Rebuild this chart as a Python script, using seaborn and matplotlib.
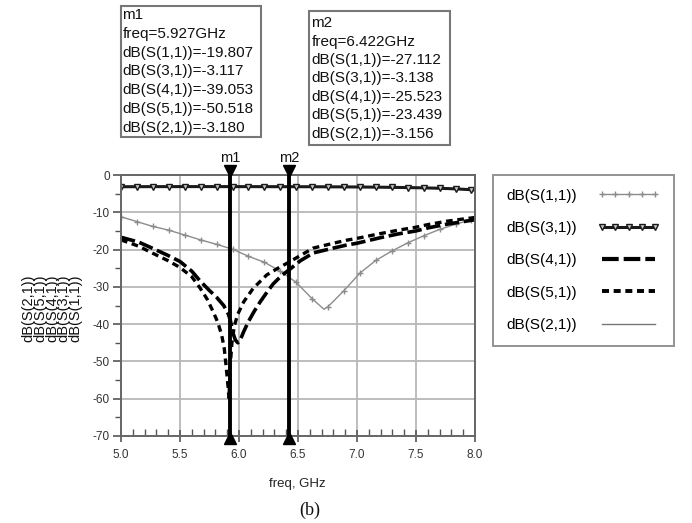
import matplotlib
matplotlib.use("Agg")
import matplotlib.pyplot as plt
import seaborn as sns
from matplotlib.lines import Line2D
from matplotlib.patches import Rectangle
from matplotlib.ticker import MultipleLocator

# ---------------- data ----------------
trace_names = ["dB(S(1,1))", "dB(S(3,1))", "dB(S(4,1))", "dB(S(5,1))", "dB(S(2,1))"]

freq_s11 = [5.0, 5.135, 5.27, 5.405, 5.54, 5.675, 5.81, 5.945, 6.08, 6.215, 6.35,
            6.485, 6.62, 6.72, 6.755, 6.89, 7.025, 7.16, 7.295, 7.43, 7.565, 7.7,
            7.835, 7.97, 8.0]
s11 = [-11.2, -12.5, -13.8, -14.8, -16.1, -17.4, -18.6, -19.9, -21.8, -23.4, -25.8,
       -28.8, -33.2, -36.0, -35.3, -31.0, -26.3, -22.9, -20.4, -18.2, -16.3, -14.6,
       -13.2, -12.0, -11.8]

freq_grid = [5.0, 5.135, 5.27, 5.405, 5.54, 5.675, 5.81, 5.945, 6.08, 6.215, 6.35,
             6.485, 6.62, 6.755, 6.89, 7.025, 7.16, 7.295, 7.43, 7.565, 7.7, 7.835,
             7.97, 8.0]
s31 = [-3.15, -3.13, -3.12, -3.12, -3.11, -3.11, -3.11, -3.12, -3.12, -3.13, -3.13,
       -3.14, -3.15, -3.17, -3.19, -3.22, -3.26, -3.31, -3.37, -3.45, -3.56, -3.72,
       -3.95, -4.05]
s21 = [-3.20, -3.18, -3.17, -3.17, -3.17, -3.17, -3.17, -3.18, -3.18, -3.17, -3.16,
       -3.16, -3.17, -3.19, -3.22, -3.25, -3.29, -3.34, -3.40, -3.48, -3.60, -3.76,
       -3.98, -4.10]

freq_s41 = [5.0, 5.15, 5.27, 5.4, 5.5, 5.6, 5.67, 5.75, 5.81, 5.87, 5.91, 5.927,
            5.95, 5.97, 5.99, 6.01, 6.04, 6.08, 6.13, 6.18, 6.24, 6.29, 6.36, 6.422,
            6.52, 6.63, 6.8, 6.91, 7.0, 7.2, 7.35, 7.5, 7.6, 7.76, 7.9, 8.0]
s41 = [-16.7, -18.0, -19.7, -21.6, -23.2, -25.8, -28.4, -31.0, -32.8, -35.0, -37.3,
       -39.05, -42.5, -44.3, -45.0, -44.3, -42.0, -39.3, -36.5, -34.0, -31.3, -29.2,
       -27.0, -25.5, -23.0, -20.9, -19.6, -18.8, -18.3, -16.8, -15.8, -15.0, -14.2,
       -13.2, -12.5, -12.0]

freq_s51 = [5.0, 5.15, 5.27, 5.4, 5.5, 5.6, 5.67, 5.73, 5.78, 5.82, 5.853, 5.875,
            5.89, 5.905, 5.915, 5.927, 5.94, 5.96, 5.99, 6.04, 6.12, 6.235, 6.33,
            6.422, 6.52, 6.63, 6.8, 6.91, 7.0, 7.2, 7.35, 7.5, 7.6, 7.76, 7.9, 8.0]
s51 = [-17.4, -19.1, -21.0, -23.0, -24.8, -27.3, -30.3, -33.3, -36.6, -39.5, -42.9,
       -46.5, -51.0, -56.0, -59.8, -50.5, -45.0, -40.5, -37.3, -34.0, -30.4, -26.8,
       -25.0, -23.4, -21.6, -19.6, -18.3, -17.5, -17.0, -15.7, -14.8, -14.0, -13.3,
       -12.4, -11.8, -11.4]

marker_names = ["m1", "m2"]
marker_freqs = [5.927, 6.422]
m1_values = [-19.807, -3.117, -39.053, -50.518, -3.180]
m2_values = [-27.112, -3.138, -25.523, -23.439, -3.156]
readout_order = ["dB(S(1,1))", "dB(S(3,1))", "dB(S(4,1))", "dB(S(5,1))", "dB(S(2,1))"]
ylabel_stack = ["dB(S(2,1))", "dB(S(5,1))", "dB(S(4,1))", "dB(S(3,1))", "dB(S(1,1))"]

x_ticks = [5.0, 5.5, 6.0, 6.5, 7.0, 7.5, 8.0]
y_ticks = [0, -10, -20, -30, -40, -50, -60, -70]

# ---------------- figure ----------------
FONT = ["Liberation Sans", "DejaVu Sans"]
plt.rcParams["font.family"] = FONT
W, H = 692, 523
fig = plt.figure(figsize=(W / 100, H / 100), dpi=100)
fig.patch.set_facecolor("white")


def fx(px):
    return px / W


def fy(py):
    return 1 - py / H


ax = fig.add_axes([fx(121), fy(436), (475 - 121) / W, (436 - 175) / H])

GRAY = "#8c8c8c"
# S(2,1) first (hidden under S(3,1))
sns.lineplot(x=freq_grid, y=s21, ax=ax, color="#777777", linewidth=1.0,
             errorbar=None, legend=False)
sns.lineplot(x=freq_s11, y=s11, ax=ax, color=GRAY, linewidth=1.0, marker="+",
             markersize=5, markeredgecolor=GRAY, markeredgewidth=1.0,
             markevery=[i for i in range(len(freq_s11)) if freq_s11[i] not in (6.72, 8.0)],
             errorbar=None, legend=False)
sns.lineplot(x=freq_grid, y=s31, ax=ax, color="#1a1a1a", linewidth=2.2, marker="v",
             markersize=5, markerfacecolor="#c8c8c8", markeredgecolor="#1a1a1a",
             markeredgewidth=1.0, markevery=list(range(len(freq_grid) - 1)),
             errorbar=None, legend=False)
sns.lineplot(x=freq_s41, y=s41, ax=ax, color="black", linewidth=2.6,
             linestyle=(0, (4.0, 1.3)), errorbar=None, legend=False)
sns.lineplot(x=freq_s51, y=s51, ax=ax, color="black", linewidth=2.4,
             linestyle=(0, (2.0, 1.4)), errorbar=None, legend=False)

ax.set_xlim(5.0, 8.0)
ax.set_ylim(-70, 0)
ax.set_xticks(x_ticks)
ax.set_xticklabels([f"{t:.1f}" for t in x_ticks])
ax.set_yticks(y_ticks)
ax.set_yticklabels([f"{t}" for t in y_ticks])
ax.xaxis.set_minor_locator(MultipleLocator(0.1))
ax.yaxis.set_minor_locator(MultipleLocator(5))
ax.grid(True, which="major", color="#b8b8b8", linewidth=1.3)
ax.set_axisbelow(True)
for s in ax.spines.values():
    s.set_color("#666666")
    s.set_linewidth(1.4)
ax.tick_params(axis="x", which="major", direction="inout", length=9, width=1.2,
               colors="#555555", labelcolor="#333333", labelsize=8.5, pad=5)
ax.tick_params(axis="x", which="minor", direction="in", length=5, width=1.0,
               colors="#555555")
ax.tick_params(axis="y", which="major", direction="out", length=6, width=1.2,
               colors="#555555", labelcolor="#333333", labelsize=8.5, pad=2)
ax.tick_params(axis="y", which="minor", direction="out", length=4, width=1.0,
               colors="#555555")
ax.set_xlabel("")
ax.set_ylabel("")

# marker lines
for name, f in zip(marker_names, marker_freqs):
    ax.axvline(f, color="black", linewidth=2.8, zorder=5)
    ax.plot([f], [0.95], marker="v", markersize=8, color="black", clip_on=False, zorder=6)
    ax.plot([f], [-70.6], marker="^", markersize=8, color="black", clip_on=False, zorder=6)
    ax.text(f, 4.6, name, ha="center", va="center", fontsize=10.5, color="#111111",
            clip_on=False)

# readout boxes
boxes = [
    (marker_names[0], marker_freqs[0], m1_values, (121, 6, 261, 137), 122.5, 19.0, 18.8),
    (marker_names[1], marker_freqs[1], m2_values, (309, 11, 450, 145), 311.5, 27.3, 18.4),
]
for name, f, vals, (x0, y0, x1, y1), tx, b0, pitch in boxes:
    fig.patches.append(Rectangle((fx(x0), fy(y1)), (x1 - x0) / W, (y1 - y0) / H,
                                 transform=fig.transFigure, facecolor="white",
                                 edgecolor="#777777", linewidth=1.5))
    lines = [name, f"freq={f:.3f}GHz"] + [f"{n}={v:.3f}" for n, v in zip(readout_order, vals)]
    for k, line in enumerate(lines):
        fig.text(fx(tx), fy(b0 + k * pitch), line, ha="left", va="baseline",
                 fontsize=11, color="#111111")

# stacked y label (one multi-line rotated text, lines packed tightly)
fig.text(fx(52), fy(308), "\n".join(ylabel_stack), rotation=90, ha="center",
         va="center", fontsize=10.5, linespacing=0.78, multialignment="center",
         color="#111111")

fig.text(fx(297), fy(484), "freq, GHz", ha="center", va="center", fontsize=9.5,
         color="#222222")
fig.text(fx(310), fy(510), "(b)", ha="center", va="center", fontsize=13,
         family=["Liberation Serif", "DejaVu Serif"], color="#111111")

# legend
handles = [
    Line2D([], [], color=GRAY, linewidth=1.0, marker="+", markersize=5,
           markeredgecolor=GRAY),
    Line2D([], [], color="#1a1a1a", linewidth=2.2, marker="v", markersize=5,
           markerfacecolor="#c8c8c8", markeredgecolor="#1a1a1a"),
    Line2D([], [], color="black", linewidth=3.0, linestyle=(0, (4.0, 1.2))),
    Line2D([], [], color="black", linewidth=2.8, linestyle=(0, (1.8, 1.2))),
    Line2D([], [], color="#777777", linewidth=1.0),
]
leg = fig.legend(handles, trace_names, loc="upper left",
                 bbox_to_anchor=(fx(493), fy(175)), bbox_transform=fig.transFigure,
                 markerfirst=False, frameon=True, fancybox=False, fontsize=11,
                 handlelength=4.1, handletextpad=1.3, labelspacing=1.2,
                 borderpad=0.9, borderaxespad=0, numpoints=5)
leg.get_frame().set_edgecolor("#777777")
leg.get_frame().set_linewidth(1.4)

fig.savefig("out.png", dpi=100, facecolor="white")
